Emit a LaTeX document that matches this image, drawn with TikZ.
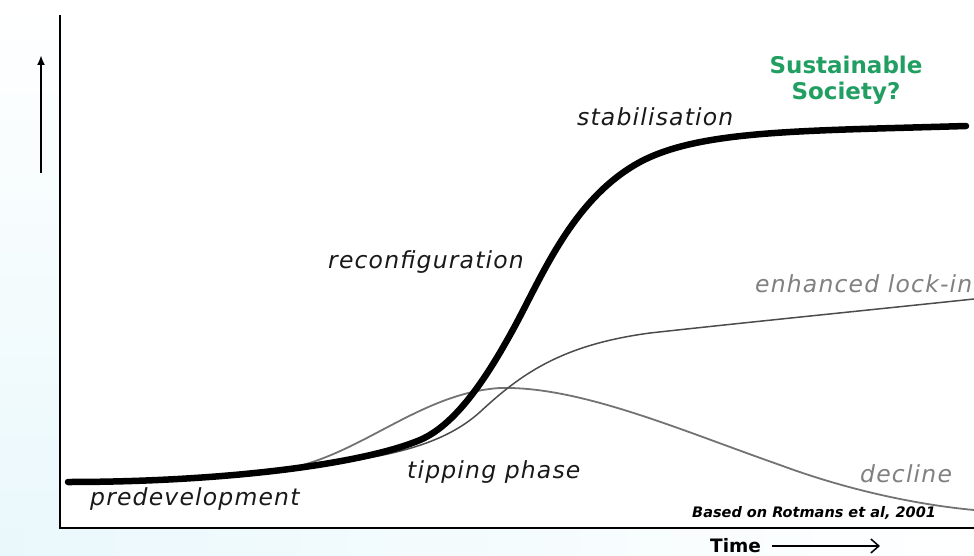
\documentclass[tikz,border=0pt]{standalone}
\usepackage{fontspec}
\setmainfont{DejaVu Sans}
\newfontfamily\phasefont[LetterSpace=5]{DejaVu Sans}
\usetikzlibrary{arrows.meta}
\definecolor{bgcyan}{RGB}{234,248,252}
\definecolor{susgreen}{RGB}{33,158,98}
\definecolor{labelgray}{RGB}{128,128,128}

\tikzset{
  phase/.style={font=\phasefont\itshape\fontsize{23.5}{26}\selectfont, text=black!90, anchor=base west, inner sep=0pt},
  branch/.style={phase, text=labelgray},
  axis/.style={line width=2.5pt},
}

\begin{document}
\begin{tikzpicture}[x=1pt, y=-1pt]
  \clip (0,0) rectangle (974,556);
  \shade[top color=white, bottom color=bgcyan] (0,0) rectangle (60,556);
  \shade[left color=bgcyan, right color=white] (0,528) rectangle (974,556);

  \coordinate (ytop) at (60,15);
  \coordinate (origin) at (60,528);
  \coordinate (xend) at (974,528);
  \coordinate (ylow) at (41,173);
  \coordinate (yhigh) at (41,55);
  \draw[axis] (ytop) -- (origin) -- (xend);
  \draw[line width=2pt, -{Latex[length=10pt,width=8pt]}] (ylow) -- (yhigh);

  \draw[black!55, line width=1.8pt] (285,469) .. controls (360,456) and (420,393) .. (500,388)
    .. controls (580,386) and (680,430) .. (780,465) .. controls (850,491) and (920,505) .. (974,510);
  \draw[black!70, line width=1.5pt] (285,469) .. controls (380,459) and (440,448) .. (480,412)
    .. controls (520,375) and (560,345) .. (650,333) .. controls (750,322) and (850,312) .. (974,299);
  \draw[line width=6.5pt, line cap=round] (68,482) .. controls (220,482) and (360,465) .. (420,440)
    .. controls (455,425) and (485,380) .. (510,335) .. controls (540,282) and (570,200) .. (640,162)
    .. controls (700,130) and (800,131) .. (966,126);

  \node[phase] (predev) at (90,505) {predevelopment};
  \node[phase] (tipping) at (407,478) {tipping phase};
  \node[phase] (reconf) at (328,268) {reconfiguration};
  \node[phase] (stabil) at (577,126) {stabilisation};
  \node[branch] (lockin) at (755,292) {enhanced lock-in};
  \node[branch] (decline) at (860,482) {decline};
  \node[font=\bfseries\fontsize{23}{26}\selectfont, text=susgreen, align=center, inner sep=0pt] (society) at (846,80) {Sustainable\\Society?};
  \node[font=\bfseries\itshape\fontsize{14.5}{16}\selectfont, anchor=base west, inner sep=0pt] (source) at (692,517) {Based on Rotmans et al, 2001};
  \node[font=\bfseries\fontsize{18.5}{22}\selectfont, anchor=base west, inner sep=0pt] (time) at (710,552) {Time};
  \coordinate (timeend) at (880,546);
  \draw[line width=1.5pt, -{Straight Barb[length=8pt,width=14pt]}] ([xshift=11pt]time.east |- timeend) -- (timeend);
\end{tikzpicture}
\end{document}
